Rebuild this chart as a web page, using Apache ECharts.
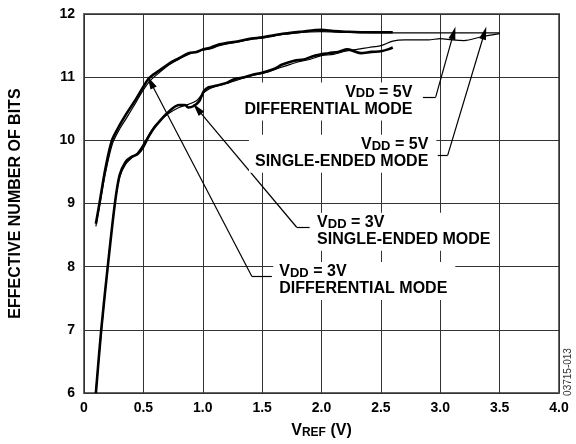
<!DOCTYPE html>
<html>
<head>
<meta charset="utf-8">
<script src="https://cdn.jsdelivr.net/npm/echarts@6/dist/echarts.min.js"></script>
<style>
html,body{margin:0;padding:0;background:#fff;}
#c{width:576px;height:444px;}
</style>
</head>
<body>
<div id="c"></div>
<script>
// ---- data ----
const xTicks = [0, 0.5, 1.0, 1.5, 2.0, 2.5, 3.0, 3.5, 4.0];
const yTicks = [6, 7, 8, 9, 10, 11, 12];

// VDD = 3V differential (thick, upper)
const xU3 = [0.10,0.13,0.18,0.235,0.30,0.35,0.44,0.50,0.55,0.63,0.72,0.80,0.88,0.95,1.00,1.07,1.14,1.30,1.41,1.50,1.69,1.83,2.00,2.10,2.20,2.40,2.60];
const yU3 = [8.68,9.00,9.55,10.00,10.24,10.40,10.66,10.85,10.99,11.10,11.22,11.30,11.38,11.40,11.44,11.47,11.52,11.57,11.61,11.63,11.69,11.72,11.75,11.73,11.72,11.71,11.71];
// VDD = 5V differential (thin, upper)
const xU5 = [0.10,0.13,0.18,0.24,0.30,0.36,0.44,0.50,0.56,0.64,0.72,0.80,0.88,0.95,1.00,1.07,1.14,1.30,1.41,1.50,1.69,1.83,2.00,2.20,2.60,2.80,3.00,3.20,3.50];
const yU5 = [8.64,8.95,9.48,9.95,10.18,10.36,10.61,10.80,10.95,11.08,11.20,11.29,11.36,11.41,11.43,11.45,11.50,11.56,11.60,11.62,11.68,11.71,11.72,11.71,11.70,11.70,11.70,11.70,11.70];
// VDD = 3V single-ended (thick, lower)
const xL3 = [0.10,0.145,0.20,0.26,0.30,0.35,0.40,0.45,0.50,0.55,0.60,0.70,0.80,0.85,0.88,0.92,0.97,1.01,1.05,1.10,1.20,1.27,1.35,1.42,1.50,1.60,1.67,1.77,1.85,1.94,2.06,2.14,2.22,2.33,2.42,2.50,2.56,2.60];
const yL3 = [6.00,7.00,8.00,9.00,9.45,9.66,9.74,9.78,9.90,10.08,10.22,10.43,10.56,10.56,10.52,10.54,10.62,10.78,10.84,10.86,10.91,10.97,11.00,11.04,11.07,11.13,11.20,11.26,11.28,11.34,11.38,11.40,11.44,11.38,11.40,11.41,11.44,11.47];
// VDD = 5V single-ended (thin, lower)
const xL5 = [0.10,0.15,0.20,0.26,0.30,0.35,0.40,0.45,0.50,0.55,0.60,0.70,0.80,0.88,0.95,1.00,1.05,1.10,1.20,1.30,1.40,1.50,1.60,1.70,1.80,1.90,2.00,2.10,2.20,2.30,2.40,2.50,2.60,2.70,2.90,3.00,3.10,3.20,3.35,3.50];
const yL5 = [6.05,7.05,8.02,9.00,9.42,9.62,9.72,9.80,9.94,10.10,10.24,10.41,10.52,10.57,10.63,10.74,10.81,10.85,10.90,10.96,11.02,11.06,11.12,11.18,11.24,11.28,11.34,11.36,11.41,11.44,11.47,11.50,11.57,11.59,11.59,11.61,11.59,11.58,11.64,11.69];

// annotation anchors (data coords): [x, y]
const lbl5VDiff = [2.837, 10.617];
const lbl5VSE   = [2.971, 9.789];
const lbl3VSE   = [1.908, 8.555];
const lbl3VDiff = [1.590, 7.773];
// leader lines: tail start, corner, arrow tip
const lead5VDiff = [[2.854, 10.6875], [2.962, 10.6875], [3.113, 11.70]];
const lead5VSE   = [[2.979, 9.766], [3.063, 9.766], [3.372, 11.70]];
const lead3VSE   = [[1.900, 8.625], [1.791, 8.625], [0.954, 10.50]];
const lead3VDiff = [[1.582, 7.844], [1.414, 7.844], [0.561, 10.92]];

const FONT = '"Liberation Sans", Arial, Helvetica, sans-serif';
const zip = (xs, ys) => xs.map((x, i) => [x, ys[i]]);

function leaderLines(p) {
  return [
    [{coord: p[0], symbol: 'none'}, {coord: p[1], symbol: 'none'}],
    [{coord: p[1], symbol: 'none'}, {coord: p[2], symbol: 'triangle', symbolSize: [7, 13]}]
  ];
}
const rich = {
  v: {fontFamily: FONT, fontWeight: 'bold', fontSize: 16, lineHeight: 16, verticalAlign: 'top', color: '#000'},
  s: {fontFamily: FONT, fontWeight: 'bold', fontSize: 13, lineHeight: 13, padding: [7, 0, 0, 0], verticalAlign: 'bottom', color: '#000'},
  m: {fontFamily: FONT, fontWeight: 'bold', fontSize: 16, lineHeight: 18, color: '#000'}
};
function labelPoint(coord, volt, mode, pos) {
  return {
    coord: coord,
    symbol: 'rect',
    symbolSize: 1,
    itemStyle: {color: 'rgba(0,0,0,0)'},
    label: {
      show: true,
      position: pos,
      distance: 0,
      backgroundColor: '#fff',
      padding: [2, 8, 2, 6],
      formatter: '{v|V}{s|DD}{v| = ' + volt + '}\n{m|' + mode + '}',
      rich: rich
    }
  };
}

const chart = echarts.init(document.getElementById('c'), null, {renderer: 'canvas'});
const thin = {width: 1.2, color: '#000'};
const thick = {width: 2.6, color: '#000'};
chart.setOption({
  animation: false,
  backgroundColor: '#fff',
  grid: {left: 81, top: 14, width: 478, height: 384, show: true, borderColor: '#666', borderWidth: 2, backgroundColor: 'transparent'},
  xAxis: {
    type: 'value', min: 0, max: 4, interval: 0.5,
    axisLine: {show: false}, axisTick: {show: false},
    splitLine: {show: true, lineStyle: {color: '#333', width: 1}},
    axisLabel: {
      margin: 8, color: '#000', fontFamily: FONT, fontWeight: 'bold', fontSize: 14,
      formatter: v => (v === 0 ? '0' : v.toFixed(1))
    },
    name: '{v|V}{s|REF}{v| (V)}',
    nameLocation: 'middle', nameGap: 26,
    nameTextStyle: {rich: {
      v: {fontFamily: FONT, fontWeight: 'bold', fontSize: 16, lineHeight: 16, verticalAlign: 'top', color: '#000'},
      s: {fontFamily: FONT, fontWeight: 'bold', fontSize: 12, lineHeight: 12, padding: [7, 0, 0, 0], verticalAlign: 'bottom', color: '#000'}
    }}
  },
  yAxis: {
    type: 'value', min: 6, max: 12, interval: 1,
    axisLine: {show: false}, axisTick: {show: false},
    splitLine: {show: true, lineStyle: {color: '#333', width: 1}},
    axisLabel: {margin: 9, color: '#000', fontFamily: FONT, fontWeight: 'bold', fontSize: 14},
    name: 'EFFECTIVE NUMBER OF BITS',
    nameLocation: 'middle', nameGap: 60,
    nameTextStyle: {color: '#000', fontFamily: FONT, fontWeight: 'bold', fontSize: 16}
  },
  series: [
    {type: 'line', name: 'VDD=5V differential', data: zip(xU5, yU5), symbol: 'none', smooth: 0.3, lineStyle: thin, silent: true},
    {type: 'line', name: 'VDD=5V single-ended', data: zip(xL5, yL5), symbol: 'none', smooth: 0.3, lineStyle: thin, silent: true},
    {type: 'line', name: 'VDD=3V differential', data: zip(xU3, yU3), symbol: 'none', smooth: 0.3, lineStyle: thick, silent: true},
    {type: 'line', name: 'VDD=3V single-ended', data: zip(xL3, yL3), symbol: 'none', smooth: 0.3, lineStyle: thick, silent: true,
      markLine: {
        silent: true, animation: false,
        lineStyle: {color: '#000', width: 1.2, type: 'solid'},
        itemStyle: {color: '#000'},
        label: {show: false},
        emphasis: {disabled: true},
        data: [].concat(leaderLines(lead5VDiff), leaderLines(lead5VSE), leaderLines(lead3VSE), leaderLines(lead3VDiff))
      },
      markPoint: {
        silent: true, animation: false,
        data: [
          labelPoint(lbl5VDiff, '5V', 'DIFFERENTIAL MODE', 'left'),
          labelPoint(lbl5VSE, '5V', 'SINGLE-ENDED MODE', 'left'),
          labelPoint(lbl3VSE, '3V', 'SINGLE-ENDED MODE', 'right'),
          labelPoint(lbl3VDiff, '3V', 'DIFFERENTIAL MODE', 'right')
        ]
      }
    }
  ],
  graphic: [{
    type: 'text', x: 568, y: 372, rotation: Math.PI / 2,
    style: {text: '03715-013', fill: '#333', font: '10px ' + FONT, textAlign: 'center', textVerticalAlign: 'middle'}
  }]
});
</script>
</body>
</html>
